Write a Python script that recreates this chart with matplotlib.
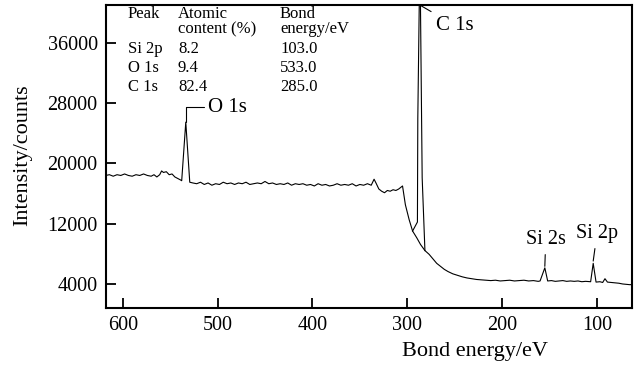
import matplotlib
matplotlib.use("Agg")
import matplotlib.pyplot as plt

plt.rcParams['font.family'] = ['Liberation Serif', 'DejaVu Serif']

# Survey spectrum (background trace): binding energy (eV) / counts
energy = [618, 614, 610, 606, 602, 598, 594, 590, 586, 582, 578, 574, 570, 567, 564,
          561, 559, 557, 554, 551, 548, 545, 542, 539, 537.8, 533.5, 529.3, 526, 522,
          518, 514, 510, 506, 502, 498, 494, 490, 486, 482, 478, 474, 470, 466, 462,
          458, 454, 450, 446, 442, 438, 434, 430, 426, 422, 418, 414, 410, 406, 402,
          398, 394, 390, 386, 382, 378, 374, 370, 366, 362, 358, 354, 350, 346, 342,
          338, 335, 333, 330, 327, 324, 321, 318, 315, 312, 309, 306, 305, 302, 298,
          294.4, 290, 286, 281.4, 277, 273, 269, 265, 261, 257, 252, 247, 242, 237,
          232, 227, 222, 217, 212, 207, 202, 197, 192, 187, 182, 177, 172, 167, 162,
          160, 155, 152, 148, 144, 140, 136, 132, 128, 124, 120, 116, 112, 106.7,
          104, 101, 97, 94, 91.6, 89, 85, 81, 77, 73, 69, 65, 63]
counts = [18400, 18500, 18300, 18500, 18400, 18600, 18400, 18300, 18500, 18400, 18600,
          18400, 18300, 18500, 18200, 18500, 19000, 18800, 18900, 18500, 18600, 18200,
          18000, 17800, 17700, 25500, 17500, 17400, 17300, 17500, 17200, 17400, 17100,
          17300, 17200, 17500, 17300, 17400, 17200, 17400, 17300, 17500, 17200, 17300,
          17400, 17300, 17600, 17300, 17400, 17200, 17300, 17200, 17400, 17100, 17300,
          17200, 17300, 17100, 17200, 17000, 17300, 17100, 17200, 17000, 17100, 17300,
          17100, 17200, 17100, 17300, 17000, 17200, 17100, 17300, 17100, 17900, 17400,
          16600, 16300, 16100, 16400, 16300, 16500, 16400, 16600, 16900, 17000, 14500,
          12500, 11000, 10100, 9200, 8400, 7900, 7300, 6700, 6300, 5900, 5600, 5300,
          5100, 4900, 4750, 4650, 4550, 4500, 4450, 4400, 4450, 4350, 4400, 4450, 4350,
          4400, 4450, 4350, 4400, 4300, 4350, 6100, 4350, 4400, 4300, 4350, 4400, 4300,
          4350, 4300, 4350, 4250, 4300, 4250, 6700, 4200, 4250, 4150, 4650, 4200, 4150,
          4100, 4050, 3950, 3900, 3850, 3900]

# C 1s peak trace (drawn over the background)
c1s_energy = [294.4, 289.3, 288.9, 287.0, 286.4, 284.3, 281.4]
c1s_counts = [11000, 12200, 26000, 45000, 45000, 18100, 8400]

xticks = [600, 500, 400, 300, 200, 100]
yticks = [4000, 12000, 20000, 28000, 36000]

table_rows = [["Peak", "Atomic", "Bond"],
              ["", "content (%)", "energy/eV"],
              ["Si 2p", "8.2", "103.0"],
              ["O 1s", "9.4", "533.0"],
              ["C 1s", "82.4", "285.0"]]

W, H = 637, 369
fig = plt.figure(figsize=(W / 100, H / 100), dpi=100)
ax = fig.add_axes([106 / W, 1 - 308 / H, (632 - 106) / W, (308 - 5) / H])

ax.plot(energy, counts, color='black', lw=0.8)
ax.plot(c1s_energy, c1s_counts, color='black', lw=0.8)

ax.set_xlim(617.6, 63.1)
ax.set_ylim(750, 41100)
ax.set_xticks(xticks)
ax.set_yticks(yticks)
ax.tick_params(direction='in', length=7, width=1.3, labelsize=14.5, pad=6,
               top=False, right=False)
for s in ax.spines.values():
    s.set_linewidth(1.5)

ax.set_xlabel("Bond energy/eV", fontsize=16)
ax.set_ylabel("Intensity/counts", fontsize=16)
ax.xaxis.set_label_coords((475 - 106) / (632 - 106), -(342 - 308) / (308 - 5))
ax.yaxis.set_label_coords(-(106 - 32) / (632 - 106), (308 - 155) / (308 - 5))

# Table of peak data
col_x = [128, 178, 280]
row_y = [14, 29, 49, 68, 87]
for r, row in enumerate(table_rows):
    for c, txt in enumerate(row):
        if txt:
            fig.text(col_x[c] / W, 1 - row_y[r] / H, txt, fontsize=12,
                     ha='left', va='center')

# Peak annotations
ax.annotate("O 1s", xy=(533.5, 25500), xytext=(510, 27500), fontsize=15,
            ha='left', va='center',
            arrowprops=dict(arrowstyle='-', lw=0.8, color='black',
                            connectionstyle='angle,angleA=0,angleB=90,rad=0',
                            shrinkA=1, shrinkB=0))
ax.annotate("C 1s", xy=(286.8, 41100), xytext=(270, 38400), fontsize=15,
            ha='left', va='center',
            arrowprops=dict(arrowstyle='-', lw=0.8, color='black',
                            shrinkA=2, shrinkB=0))
ax.annotate("Si 2s", xy=(155, 6300), xytext=(154, 8600), fontsize=14.5,
            ha='center', va='bottom',
            arrowprops=dict(arrowstyle='-', lw=0.8, color='black',
                            shrinkA=2, shrinkB=0))
ax.annotate("Si 2p", xy=(104, 7000), xytext=(100, 9400), fontsize=14.5,
            ha='center', va='bottom',
            arrowprops=dict(arrowstyle='-', lw=0.8, color='black',
                            shrinkA=2, shrinkB=0))

fig.savefig("out.png", dpi=100)
